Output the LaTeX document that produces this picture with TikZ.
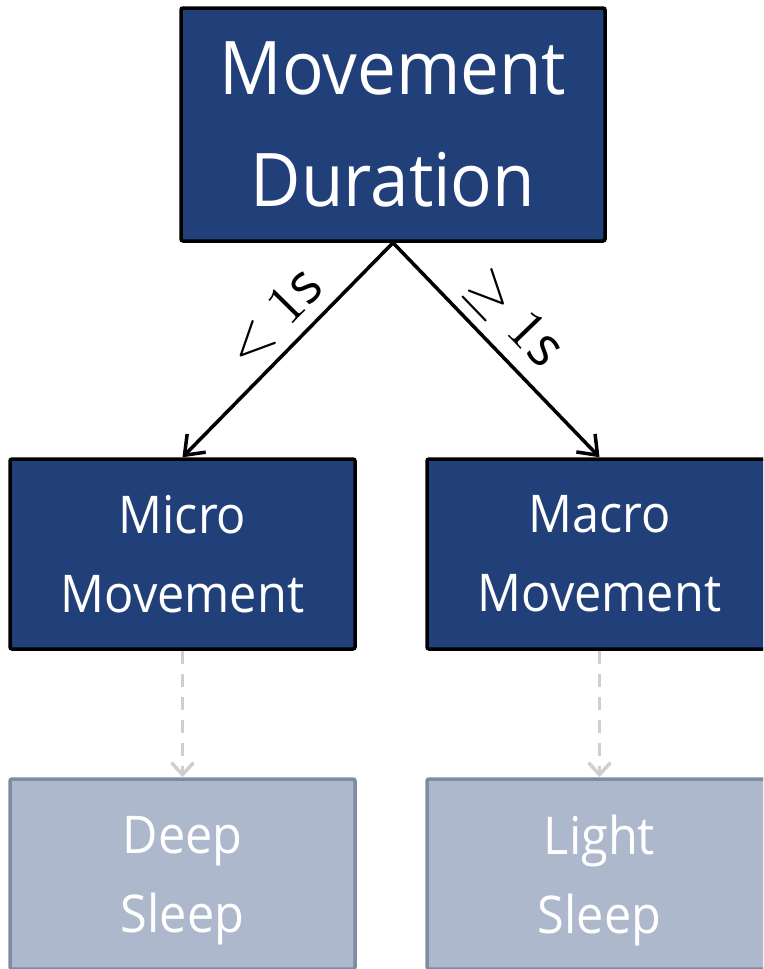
\documentclass[tikz,border=0pt]{standalone}
\usepackage{fontspec}
\setmainfont{Open Sans}[FakeStretch=0.935]
\usepackage{unicode-math}
\setmathfont{Latin Modern Math}
\usetikzlibrary{arrows.meta}
\definecolor{darkblue}{HTML}{21407A}
\definecolor{fadeblue}{HTML}{AEB8CD}
\definecolor{fadeborder}{HTML}{7F8BA3}
\definecolor{fadeline}{HTML}{CFCFCF}
\newcommand{\nodepth}[1]{\raisebox{0pt}[\height][0pt]{#1}}
\tikzset{
  mainbox/.style={draw=black, line width=3.5pt, fill=darkblue, rounded corners=2pt,
    text=white, align=center, inner sep=0pt, minimum width=424pt, minimum height=233pt,
    font=\fontsize{74}{112}\selectfont},
  midbox/.style={draw=black, line width=3.5pt, fill=darkblue, rounded corners=2pt,
    text=white, align=center, inner sep=0pt, minimum width=345pt, minimum height=190pt,
    font=\fontsize{52}{79}\selectfont},
  fadebox/.style={draw=fadeborder, line width=3.5pt, fill=fadeblue, rounded corners=2pt,
    text=white, align=center, inner sep=0pt, minimum width=345pt, minimum height=190pt,
    font=\fontsize{52}{79}\selectfont},
  mainarrow/.style={draw=black, line width=3.5pt, -{Straight Barb[length=17pt,width=26pt,line width=3.5pt]}},
  fadearrow/.style={draw=fadeline, line width=3.5pt, dash pattern=on 13pt off 10pt,
    -{Straight Barb[length=12pt,width=22pt,line width=3.5pt]}},
  edgelabel/.style={font=\fontsize{56}{56}\selectfont, sloped, above, inner sep=10pt}
}
\begin{document}
\begin{tikzpicture}[x=1pt,y=-1pt]
\useasboundingbox (0,0) rectangle (763,969);
\clip (0,0) rectangle (763,969);
\node[mainbox] (dur) at (393,124.5) {Movement\\Duration};
\node[midbox] (micro) at (182.5,554) {Micro\\Movement};
\node[midbox] (macro) at (599.5,554) {Macro\\Movement};
\node[fadebox] (deep) at (182.5,874) {Deep\\\nodepth{Sleep}};
\node[fadebox] (light) at (599.5,874) {Light\\\nodepth{Sleep}};
\draw[mainarrow] (dur.south) -- node[edgelabel, pos=0.45] {$<1\mathrm{s}$} (micro.north);
\draw[mainarrow] (dur.south) -- node[edgelabel, pos=0.47] {$\geq 1\mathrm{s}$} (macro.north);
\draw[fadearrow] (micro.south) -- (deep.north);
\draw[fadearrow] (macro.south) -- (light.north);
\end{tikzpicture}
\end{document}
